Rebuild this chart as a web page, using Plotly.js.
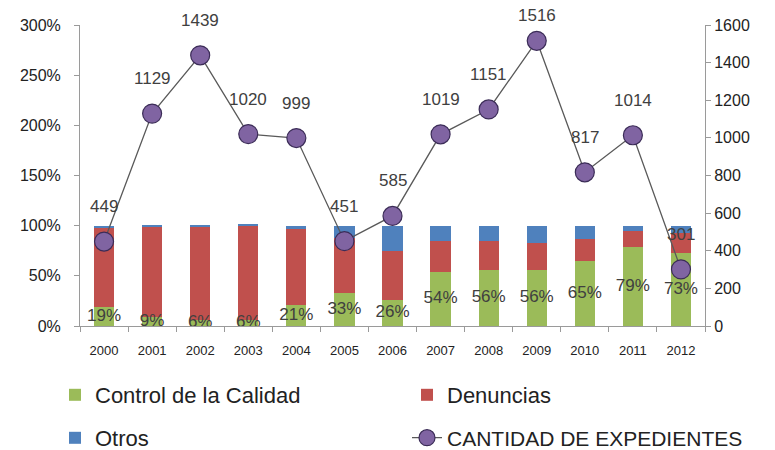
<!DOCTYPE html>
<html>
<head>
<meta charset="utf-8">
<script src="https://cdn.plot.ly/plotly-3.0.1.min.js"></script>
<style>
  body { margin: 0; background: #fff; }
  #chart { width: 775px; height: 450px; }
</style>
</head>
<body>
<div id="chart"></div>
<script>
// Years and series
const years = ['2000', '2001', '2002', '2003', '2004', '2005', '2006',
               '2007', '2008', '2009', '2010', '2011', '2012'];
const control = [19, 9, 6, 6, 21, 33, 26, 54, 56, 56, 65, 79, 73];
const denuncias = [79, 90, 93, 94, 76, 55, 49, 31, 29, 27, 22, 16, 20];
const otros = [2, 1, 1, 1, 3, 12, 25, 15, 15, 17, 13, 5, 7];
const expedientes = [449, 1129, 1439, 1020, 999, 451, 585, 1019, 1151, 1516, 817, 1014, 301];

const font = 'Liberation Sans, Arial, sans-serif';
const textColor = '#404040';

const traces = [
    {
        x: years, y: control.map(v => v / 100), type: 'bar',
        name: 'Control de la Calidad', marker: { color: '#9BBB59' },
        legend: 'legend', hoverinfo: 'skip'
    },
    {
        x: years, y: denuncias.map(v => v / 100), type: 'bar',
        name: 'Denuncias', marker: { color: '#C0504D' },
        legend: 'legend2', hoverinfo: 'skip'
    },
    {
        x: years, y: otros.map(v => v / 100), type: 'bar',
        name: 'Otros', marker: { color: '#4F81BD' },
        legend: 'legend3', hoverinfo: 'skip'
    },
    // percentage labels centred in the green segment
    {
        x: years, y: control.map(v => v / 200), type: 'scatter', mode: 'text',
        text: control.map(v => v + '%'), showlegend: false, hoverinfo: 'skip',
        textfont: { family: font, size: 17, color: textColor }, cliponaxis: false
    },
    {
        x: years, y: expedientes, type: 'scatter', mode: 'lines+markers',
        yaxis: 'y2', name: 'CANTIDAD DE EXPEDIENTES', legend: 'legend4',
        line: { color: '#595959', width: 1.3 }, cliponaxis: false,
        marker: { color: '#8064A2', size: 19, line: { color: '#3B2C57', width: 1.2 } }
    }
];

// value labels above the points (x given as category index so '2000' is not read as a number)
// the highest one sits a bit lower so it stays inside the picture
const labels = expedientes.map((v, i) => ({
    x: i, y: v, xref: 'x', yref: 'y2', text: String(v),
    showarrow: false, yshift: v > 1500 ? 25 : 35,
    font: { family: font, size: 17, color: textColor }
}));

// one legend box per entry, laid out as a 2x2 grid below the plot
function legendAt(px, py, size) {
    return {
        xref: 'container', yref: 'container',
        x: px / 775, y: 1 - py / 450, xanchor: 'left', yanchor: 'middle',
        font: { family: font, size: size, color: '#222' },
        bgcolor: 'rgba(0,0,0,0)'
    };
}

const layout = {
    width: 775, height: 450,
    margin: { l: 80, r: 70, t: 25, b: 124, autoexpand: false },
    paper_bgcolor: '#fff', plot_bgcolor: '#fff',
    barmode: 'stack', bargap: 0.58,
    font: { family: font, color: textColor },
    annotations: labels,
    xaxis: {
        type: 'category', range: [-0.5, years.length - 0.5],
        showgrid: false, zeroline: false,
        showline: true, linecolor: '#9a9a9a', linewidth: 1,
        ticks: 'outside', tickson: 'boundaries', ticklen: 5, tickcolor: '#9a9a9a',
        ticklabelstandoff: 12,
        tickfont: { size: 13, family: font, color: '#222' }
    },
    yaxis: {
        range: [0, 3], dtick: 0.5, tickformat: '.0%',
        showgrid: false, zeroline: false,
        showline: true, linecolor: '#9a9a9a',
        ticks: 'outside', ticklen: 5, tickcolor: '#9a9a9a',
        ticklabelstandoff: 10,
        tickfont: { size: 16, family: font, color: '#222' }
    },
    yaxis2: {
        overlaying: 'y', side: 'right', range: [0, 1600], dtick: 200,
        showgrid: false, zeroline: false,
        showline: true, linecolor: '#9a9a9a',
        ticks: 'outside', ticklen: 5, tickcolor: '#9a9a9a',
        tickfont: { size: 16, family: font, color: '#222' }
    },
    legend: legendAt(55, 395, 22),
    legend2: legendAt(407, 395, 22),
    legend3: legendAt(55, 438, 22),
    legend4: legendAt(407, 438, 21),
    showlegend: true
};

Plotly.newPlot('chart', traces, layout, { displayModeBar: false });
</script>
</body>
</html>
